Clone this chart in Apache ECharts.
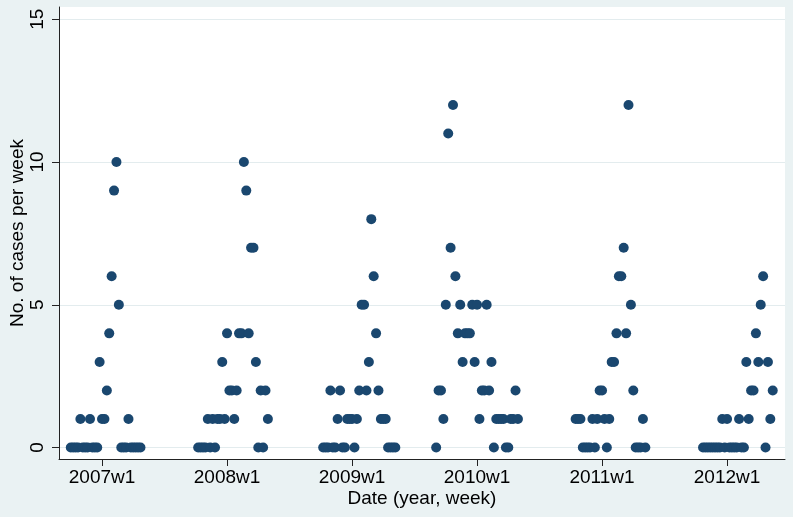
<!DOCTYPE html>
<html>
<head>
<meta charset="utf-8">
<script src="https://cdn.jsdelivr.net/npm/echarts@6/dist/echarts.min.js"></script>
<style>
	html, body { margin: 0; padding: 0; background: #eaf2f3; }
	#casesChart { width: 793px; height: 517px; }
</style>
</head>
<body>
<div id="casesChart"></div>
<script>
	// weekly case counts, one array per season, each starting at the week in seasonStart
	const seasonStart = ['2006w40', '2007w41', '2008w41', '2009w36', '2010w42', '2011w43']
	const season2007 = [0, 0, 0, 0, 1, 0, 0, 0, 1, 0, 0, 0, 3, 1, 1, 2, 4, 6, 9, 10, 5, 0, 0, 0, 1, 0, 0, 0, 0, 0]
	const season2008 = [0, 0, 0, 0, 1, 0, 1, 0, 1, 1, 3, 1, 4, 2, 2, 1, 2, 4, 4, 10, 9, 4, 7, 7, 3, 0, 2, 0, 2, 1]
	const season2009 = [0, 0, 0, 2, 0, 0, 1, 2, 0, 0, 1, 1, 1, 0, 1, 2, 5, 5, 2, 3, 8, 6, 4, 2, 1, 1, 1, 0, 0, 0, 0]
	const season2010 = [0, 2, 2, 1, 5, 11, 7, 12, 6, 4, 5, 3, 4, 4, 4, 5, 3, 5, 1, 2, 2, 5, 2, 3, 0, 1, 1, 1, 1, 0, 0, 1, 1, 2, 1]
	const season2011 = [1, 1, 1, 0, 0, 0, 0, 1, 0, 1, 2, 2, 1, 0, 1, 3, 3, 4, 6, 6, 7, 4, 12, 5, 2, 0, 0, 0, 1, 0]
	const season2012 = [0, 0, 0, 0, 0, 0, 0, 0, 1, 0, 1, 0, 0, 0, 0, 1, 0, 0, 3, 1, 2, 2, 4, 3, 5, 6, 0, 3, 1, 2]

	const xTickLabels = ['2007w1', '2008w1', '2009w1', '2010w1', '2011w1', '2012w1']
	const yTicks = [0, 5, 10, 15]

	// stata style weekly date: 52 weeks a year, 1960w1 = 0
	const toWeek = (s) => {
		const parts = s.split('w')
		return (Number(parts[0]) - 1960) * 52 + Number(parts[1]) - 1
	}
	const weekLabel = (v) => {
		const y = 1960 + Math.floor(v / 52)
		return y + 'w' + (v - (y - 1960) * 52 + 1)
	}

	const seasons = [season2007, season2008, season2009, season2010, season2011, season2012]
	const points = []
	seasons.forEach((vals, k) => {
		const start = toWeek(seasonStart[k])
		vals.forEach((v, i) => {
			points.push([start + i, v])
		})
	})

	const textFont = '"Liberation Sans", Arial, Helvetica, sans-serif'

	const getOption = () => {
		const option = {
			animation: false,
			backgroundColor: '#eaf2f3',
			textStyle: {
				fontFamily: textFont,
				color: '#000'
			},
			grid: {
				left: 59,
				right: 8,
				top: 7,
				bottom: 58,
				containLabel: false,
				outerBoundsMode: 'none',
				show: true,
				backgroundColor: '#ffffff',
				borderWidth: 0
			},
			xAxis: {
				type: 'value',
				min: 2426.1,
				max: 2728.1,
				name: 'Date (year, week)',
				nameLocation: 'middle',
				nameGap: 30,
				nameMoveOverlap: false,
				nameTextStyle: { fontSize: 19, color: '#000', fontFamily: textFont },
				axisLine: { show: true, onZero: false, lineStyle: { color: '#222', width: 1 } },
				axisTick: {
					show: true,
					length: 7,
					customValues: xTickLabels.map(toWeek),
					lineStyle: { color: '#222' }
				},
				axisLabel: {
					margin: 9,
					fontSize: 19,
					color: '#000',
					fontFamily: textFont,
					customValues: xTickLabels.map(toWeek),
					formatter: (v) => weekLabel(v)
				},
				splitLine: { show: false }
			},
			yAxis: {
				type: 'value',
				min: -0.4,
				max: 15.43,
				name: 'No. of cases per week',
				nameLocation: 'middle',
				nameRotate: 90,
				nameGap: 32,
				nameMoveOverlap: false,
				nameTextStyle: { fontSize: 19, color: '#000', fontFamily: textFont },
				axisLine: { show: true, onZero: false, lineStyle: { color: '#222', width: 1 } },
				axisTick: {
					show: true,
					length: 7,
					customValues: yTicks,
					lineStyle: { color: '#222' }
				},
				axisLabel: {
					rotate: 90,
					margin: 12,
					fontSize: 19,
					color: '#000',
					fontFamily: textFont,
					customValues: yTicks
				},
				splitLine: { show: true, lineStyle: { color: '#e3ecee', width: 1 } }
			},
			series: [{
				type: 'scatter',
				symbol: 'circle',
				symbolSize: 10,
				clip: false,
				itemStyle: { color: '#1a476f', opacity: 1 },
				data: points
			}]
		}
		return option
	}

	const myChart = echarts.init(document.getElementById('casesChart'))
	myChart.setOption(getOption())
</script>
</body>
</html>
